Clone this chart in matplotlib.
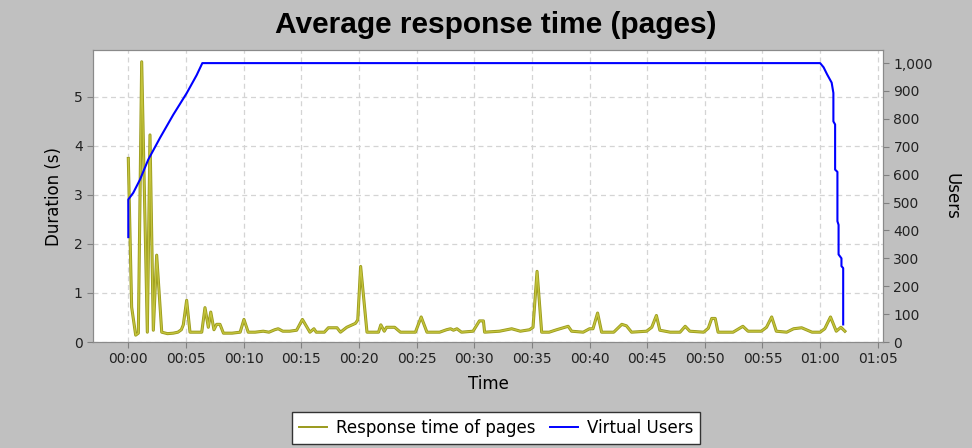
#!/usr/bin/env python
'''
Average response time (pages) - response time vs virtual users
'''
import matplotlib
matplotlib.use('Agg')
import matplotlib.pyplot as plt
import matplotlib.patheffects as pe
from matplotlib.lines import Line2D
from matplotlib.ticker import FuncFormatter, MultipleLocator

# response time of pages: minutes since start, seconds
RT_MIN = [0.0, 0.29, 0.64, 0.87, 1.16, 1.65, 1.88, 2.17, 2.46, 2.9, 3.4, 3.9, 4.3, 4.6,
          4.77, 5.06, 5.35, 5.8, 6.37, 6.65, 6.94, 7.15, 7.43, 7.66, 7.95, 8.25, 9.0, 9.7,
          10.03, 10.4, 11.0, 11.7, 12.2, 12.7, 13.0, 13.4, 14.0, 14.6, 15.1, 15.75, 16.1,
          16.3, 17.0, 17.35, 18.1, 18.4, 18.95, 19.7, 19.9, 20.15, 20.7, 21.7, 21.9, 22.2,
          22.4, 23.1, 23.6, 24.9, 25.4, 25.9, 27.0, 27.6, 27.95, 28.2, 28.5, 28.9, 29.9,
          30.45, 30.8, 30.9, 32.2, 33.25, 34.0, 34.8, 35.1, 35.45, 35.85, 36.5, 37.15,
          38.15, 38.45, 39.45, 40.0, 40.3, 40.7, 41.05, 42.1, 42.8, 43.2, 43.65, 44.95,
          45.4, 45.8, 46.1, 46.55, 47.0, 47.85, 48.3, 48.7, 49.9, 50.3, 50.6, 50.9, 51.15,
          52.45, 53.3, 53.75, 54.9, 55.35, 55.8, 56.2, 57.1, 57.7, 58.4, 59.3, 60.0, 60.4,
          60.9, 61.4, 61.8, 62.15]
RT_SEC = [3.74, 0.71, 0.14, 0.18, 5.71, 0.2, 4.22, 0.24, 1.77, 0.2, 0.17, 0.18, 0.2, 0.25,
          0.35, 0.85, 0.2, 0.2, 0.2, 0.70, 0.3, 0.61, 0.25, 0.36, 0.36, 0.18, 0.18, 0.2,
          0.46, 0.2, 0.2, 0.22, 0.2, 0.25, 0.27, 0.22, 0.22, 0.24, 0.46, 0.2, 0.27,
          0.2, 0.2, 0.29, 0.29, 0.2, 0.3, 0.38, 0.45, 1.54, 0.2, 0.2, 0.35, 0.22,
          0.3, 0.3, 0.2, 0.2, 0.51, 0.2, 0.2, 0.25, 0.27, 0.24, 0.27, 0.2, 0.22,
          0.43, 0.43, 0.2, 0.22, 0.27, 0.22, 0.25, 0.3, 1.44, 0.2, 0.2, 0.25,
          0.32, 0.22, 0.2, 0.27, 0.27, 0.59, 0.2, 0.2, 0.36, 0.33, 0.2, 0.22,
          0.3, 0.54, 0.24, 0.22, 0.2, 0.2, 0.32, 0.22, 0.2, 0.28, 0.48, 0.48, 0.2,
          0.2, 0.32, 0.22, 0.22, 0.3, 0.51, 0.22, 0.2, 0.27, 0.29, 0.2, 0.2, 0.27,
          0.51, 0.22, 0.3, 0.22]

# virtual users: minutes since start, user count
VU_MIN = [0.0, 0.0, 0.43, 1.01, 1.73, 2.75, 3.9, 5.06, 5.93, 6.42, 60.0, 60.3, 60.6, 61.0,
          61.15, 61.15, 61.3, 61.3, 61.5, 61.5, 61.6, 61.6, 61.85, 61.85, 62.0, 62.0]
VU_COUNT = [376, 511, 535, 582, 654, 732, 815, 892, 957, 1000, 1000, 985, 960, 930,
            893, 791, 780, 618, 610, 433, 420, 314, 300, 272, 265, 63]

BG = '#c0c0c0'
YELLOW = '#c4c43c'
OLIVE = '#9a9a1c'
BLUE = '#0000ff'
GRID = '#d4d4d4'


def fmt_time(x, pos):
    m = int(round(x))
    return '%02d:%02d' % (m // 60, m % 60)


def main():
    plt.rcParams['font.family'] = ['DejaVu Sans']
    fig = plt.figure(figsize=(9.72, 4.48), dpi=100, facecolor=BG)
    ax = fig.add_axes([0.0957, 0.2366, 0.8127, 0.6518])
    ax2 = ax.twinx()

    ax.plot(RT_MIN, RT_SEC, color=YELLOW, lw=1.0,
            path_effects=[pe.Stroke(linewidth=2.2, foreground=OLIVE), pe.Normal()])
    ax2.plot(VU_MIN, VU_COUNT, color=BLUE, lw=1.5)

    ax.set_xlim(-3.06, 65.45)
    ax.set_ylim(0, 5.95)
    ax2.set_ylim(0, 1047)

    ax.xaxis.set_major_locator(MultipleLocator(5))
    ax.xaxis.set_major_formatter(FuncFormatter(fmt_time))
    ax.yaxis.set_major_locator(MultipleLocator(1))
    ax2.yaxis.set_major_locator(MultipleLocator(100))
    ax2.yaxis.set_major_formatter(FuncFormatter(lambda v, p: '{:,.0f}'.format(v)))

    ax.grid(True, color=GRID, linestyle=(0, (4, 3)), linewidth=0.9)
    ax.set_axisbelow(True)
    ax.set_facecolor('white')

    for a in (ax, ax2):
        a.tick_params(labelsize=10, length=4, color='#808080', labelcolor='#222222')
        for s in a.spines.values():
            s.set_color('#8a8a8a')
            s.set_linewidth(0.8)

    ax.set_xlabel('Time', fontsize=12, labelpad=6)
    ax.set_ylabel('Duration (s)', fontsize=12, labelpad=8)
    ax2.set_ylabel('Users', fontsize=12, rotation=270, labelpad=20)

    fig.text(496 / 972, 0.944, 'Average response time (pages)', ha='center', va='center',
             fontsize=21.5, fontweight='bold', family='Liberation Sans')

    handles = [Line2D([], [], color=OLIVE, lw=1.4), Line2D([], [], color=BLUE, lw=1.4)]
    leg = fig.legend(handles=handles, labels=['Response time of pages', 'Virtual Users'],
                     loc='upper center', bbox_to_anchor=(496 / 972, 1 - 404 / 448),
                     ncol=2, fontsize=12, frameon=True, fancybox=False, handlelength=1.7,
                     handletextpad=0.5, columnspacing=0.9, borderpad=0.4)
    leg.get_frame().set_edgecolor('#333333')
    leg.get_frame().set_linewidth(1.0)
    leg.get_frame().set_alpha(1.0)

    fig.savefig('out.png', dpi=100, facecolor=BG)


if __name__ == '__main__':
    main()
